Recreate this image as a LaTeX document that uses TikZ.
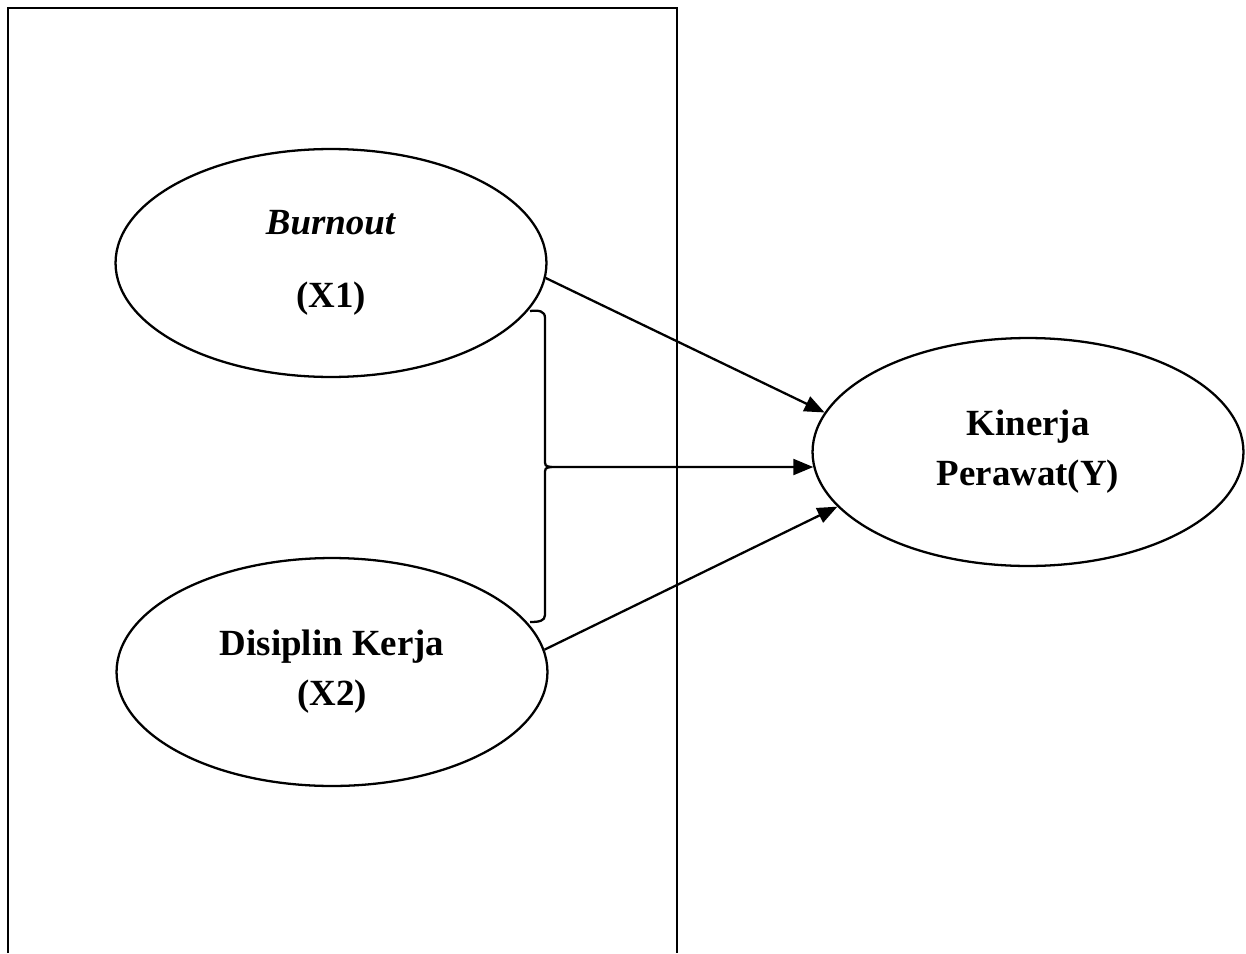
\documentclass[tikz,border=0pt]{standalone}
\usepackage{fontspec}
\setmainfont{Liberation Serif}
\usetikzlibrary{positioning,arrows.meta,shapes.geometric}

\begin{document}
\begin{tikzpicture}[x=0.02cm, y=-0.02cm, line width=1.3pt,
  var/.style={draw, ellipse, minimum width=8.62cm, minimum height=4.56cm,
    align=center, font=\fontsize{21}{28.5}\selectfont\bfseries},
  arr/.style={-{Triangle[length=4mm, width=3.2mm]}}]
\useasboundingbox (0,0) rectangle (1246,953);
\draw (8,953) -- (8,8) -- (677,8) -- (677,953);
\node[var] (x1) at (331,263) {\textit{Burnout}\\[13pt](X1)};
\node[var] (x2) at (332,672) {Disiplin Kerja\\(X2)};
\node[var] (y) at (1028,452) {Kinerja\\Perawat(Y)};
\coordinate (tip) at (551,467);
% bracket joining X1 and X2
\draw (530,311) .. controls (539,310) and (545,311) .. (545,318) -- (545,459)
  .. controls (545,466) .. (tip) .. controls (545,468) .. (545,475) -- (545,615)
  .. controls (545,621) and (539,622) .. (530,622);
\draw[arr] (x1.-4) -- (y.169);
\draw[arr] (tip) -- (y.184);
\draw[arr] (x2.6) -- (y.196);
\end{tikzpicture}
\end{document}
